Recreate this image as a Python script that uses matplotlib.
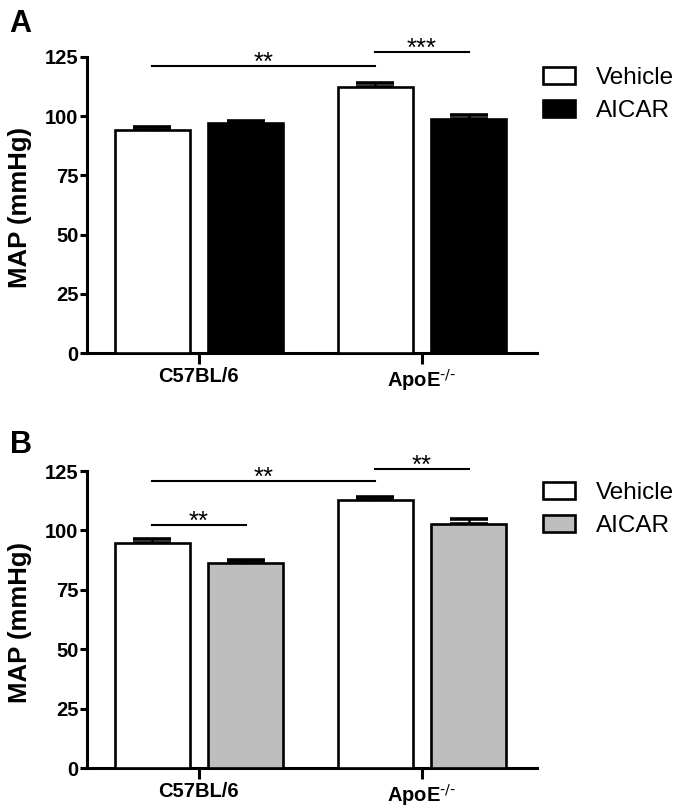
import matplotlib
matplotlib.use('Agg')
import matplotlib.pyplot as plt
from matplotlib.patches import Patch

plt.rcParams['font.family'] = ['Liberation Sans', 'DejaVu Sans']
plt.rcParams['mathtext.default'] = 'regular'

groups = ['C57BL/6', r'ApoE$^{\text{-/-}}$']
series = ['Vehicle', 'AICAR']

# panel A
a_vehicle = [94.2, 112.5]
a_vehicle_err = [1.4, 1.4]
a_aicar = [97.0, 98.8]
a_aicar_err = [1.1, 1.7]

# panel B
b_vehicle = [94.6, 112.8]
b_vehicle_err = [1.6, 1.1]
b_aicar = [86.1, 102.7]
b_aicar_err = [1.3, 2.1]

# significance: (bar from, bar to, height, label); bars numbered 0..3 left to right
a_sig = [(0, 2, 121.0, '**'), (2, 3, 127.2, '***')]
b_sig = [(0, 2, 120.8, '**'), (2, 3, 125.9, '**'), (0, 1, 102.1, '**')]

off = 0.21
w = 0.336


def panel(ax, veh, veh_err, aic, aic_err, aic_color, sig, legend_y):
    xs = [0, 1]
    xv = [x - off for x in xs]
    xa = [x + off for x in xs]
    ax.bar(xv, veh, w, color='white', edgecolor='black', linewidth=1.9, zorder=3)
    ax.bar(xa, aic, w, color=aic_color, edgecolor='black', linewidth=1.9, zorder=3)
    for xx, v, e in [(xv, veh, veh_err), (xa, aic, aic_err)]:
        ax.errorbar(xx, v, yerr=[[0, 0], e], fmt='none', ecolor='black',
                    elinewidth=1.8, capsize=14, capthick=2.6, zorder=2)
    centers = [xv[0], xa[0], xv[1], xa[1]]
    for i, j, h, lab in sig:
        ax.plot([centers[i], centers[j]], [h, h], color='black', lw=1.5, clip_on=False)
        ax.text((centers[i] + centers[j]) / 2, h - 1.6, lab, ha='center', va='baseline',
                fontsize=18.5, clip_on=False)
    ax.set_ylim(0, 125)
    ax.set_xlim(-0.502, 1.516)
    ax.set_yticks([0, 25, 50, 75, 100, 125])
    ax.set_xticks(xs)
    ax.set_xticklabels(groups, fontsize=14.5, fontweight='bold')
    for lab in ax.get_yticklabels():
        lab.set_fontweight('bold')
        lab.set_fontsize(14.5)
    ax.spines['top'].set_visible(False)
    ax.spines['right'].set_visible(False)
    ax.spines['left'].set_linewidth(2.2)
    ax.spines['bottom'].set_linewidth(2.2)
    ax.tick_params(axis='y', length=5, width=2.2, pad=1)
    ax.tick_params(axis='x', length=8, width=2.2, pad=2)
    ax.set_ylabel('MAP (mmHg)', fontsize=18.5, fontweight='bold')
    ax.yaxis.set_label_coords(-0.122, 0.49)
    handles = [Patch(facecolor='white', edgecolor='black', linewidth=1.9),
               Patch(facecolor=aic_color, edgecolor='black', linewidth=1.9)]
    fig.legend(handles, series, loc='upper left', bbox_to_anchor=(0.799, legend_y),
               frameon=False, fontsize=17.5, handlelength=1.35, handleheight=0.7,
               handletextpad=0.85, labelspacing=0.45, borderpad=0, borderaxespad=0)


fig = plt.figure(figsize=(6.79, 8.08), dpi=100)
ax1 = fig.add_axes([0.128, 0.563, 0.663, 0.3665])
ax2 = fig.add_axes([0.128, 0.0495, 0.663, 0.3675])

panel(ax1, a_vehicle, a_vehicle_err, a_aicar, a_aicar_err, 'black', a_sig, 0.917)
panel(ax2, b_vehicle, b_vehicle_err, b_aicar, b_aicar_err, '#bebebe', b_sig, 0.404)

fig.text(0.014, 1 - 32 / 808, 'A', fontsize=22, fontweight='bold', va='baseline')
fig.text(0.014, 1 - 453 / 808, 'B', fontsize=22, fontweight='bold', va='baseline')

fig.savefig('out.png', dpi=100)
